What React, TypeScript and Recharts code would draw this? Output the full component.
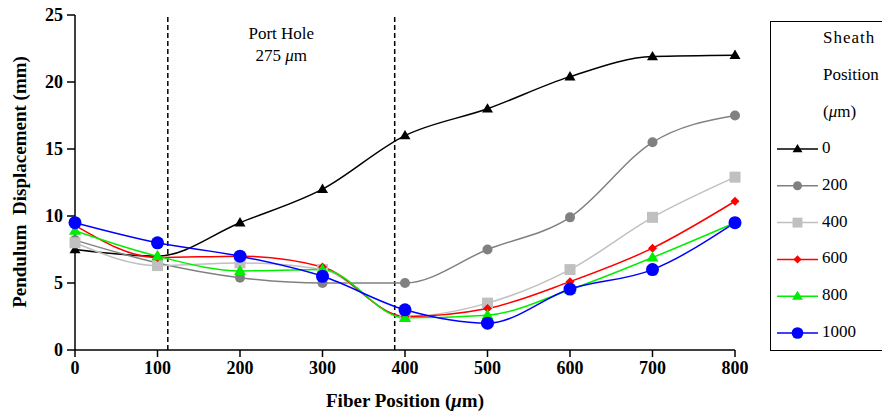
import { LineChart, Line, XAxis, YAxis, ReferenceLine } from 'recharts';

const fiberPositions = [0, 100, 200, 300, 400, 500, 600, 700, 800];
const sheathLabels = ['0', '200', '400', '600', '800', '1000'];
const sheath0 = [7.5, 7.0, 9.5, 12.0, 16.0, 18.0, 20.4, 21.9, 22.0];
const sheath200 = [8.2, 6.5, 5.4, 5.0, 5.0, 7.5, 9.9, 15.5, 17.5];
const sheath400 = [8.0, 6.3, 6.5, 6.0, 2.5, 3.5, 6.0, 9.9, 12.9];
const sheath600 = [9.3, 6.9, 7.0, 6.2, 2.5, 3.1, 5.1, 7.6, 11.1];
const sheath800 = [8.9, 7.0, 5.9, 6.0, 2.4, 2.6, 4.5, 6.9, 9.5];
const sheath1000 = [9.5, 8.0, 7.0, 5.5, 3.0, 2.0, 4.55, 6.0, 9.5];
const yTicks = [0, 5, 10, 15, 20, 25];
const portHoleEdges = [112.5, 387.5];

const seriesValues = [sheath0, sheath200, sheath400, sheath600, sheath800, sheath1000];

const data = fiberPositions.map((x, i) => {
  const row: Record<string, number> = { x };
  sheathLabels.forEach((s, k) => {
    row['s' + s] = seriesValues[k][i];
  });
  return row;
});

const styles = [
  { color: '#000000', shape: 'triangle', size: 5.5 },
  { color: '#808080', shape: 'circle', size: 5 },
  { color: '#c0c0c0', shape: 'square', size: 5.5 },
  { color: '#ff0000', shape: 'diamond', size: 4.5 },
  { color: '#00ee00', shape: 'triangle', size: 6 },
  { color: '#0000ff', shape: 'circle', size: 6.5 },
];

const FONT = '"Liberation Serif", "Times New Roman", serif';

function marker(shape: string, color: string, size: number, cx: number, cy: number, key?: string) {
  if (shape === 'triangle') {
    const h = size * 1.7;
    const pts = `${cx},${cy - h * 0.6} ${cx - size},${cy + h * 0.4} ${cx + size},${cy + h * 0.4}`;
    return <polygon key={key} points={pts} fill={color} />;
  }
  if (shape === 'square') {
    return <rect key={key} x={cx - size} y={cy - size} width={size * 2} height={size * 2} fill={color} />;
  }
  if (shape === 'diamond') {
    const pts = `${cx},${cy - size} ${cx + size},${cy} ${cx},${cy + size} ${cx - size},${cy}`;
    return <polygon key={key} points={pts} fill={color} />;
  }
  return <circle key={key} cx={cx} cy={cy} r={size} fill={color} />;
}

const makeDot = (k: number) => (props: any) => {
  const { cx, cy, index } = props;
  if (cx == null || cy == null) return <g key={`d${k}-${index}`} />;
  const st = styles[k];
  return marker(st.shape, st.color, st.size, cx, cy, `d${k}-${index}`);
};

// legend box drawn beside the chart, partly cut off by the right edge like the original
const SheathLegend = () => {
  const header = ['Sheath', 'Position', '(μm)'];
  return (
    <div
      style={{
        position: 'absolute',
        left: 770,
        top: 21,
        width: 130,
        height: 330,
        border: '1.5px solid #000',
        background: '#fff',
        boxSizing: 'border-box',
      }}
    >
      <svg width={130} height={328} style={{ display: 'block' }}>
        {header.map((h, i) => (
          <text
            key={h}
            x={52}
            y={17 + i * 37}
            fontFamily={FONT}
            fontSize={17}
            dominantBaseline="middle"
            letterSpacing={h === 'Sheath' ? 1 : 0}
          >
            {h === '(μm)' ? (
              <>
                (<tspan fontStyle="italic">μ</tspan>m)
              </>
            ) : (
              h
            )}
          </text>
        ))}
        {sheathLabels.map((s, k) => {
          const y = 127 + k * 36.8;
          const st = styles[k];
          return (
            <g key={s}>
              <line x1={6} x2={47} y1={y} y2={y} stroke={st.color} strokeWidth={1.5} />
              {marker(st.shape, st.color, st.size * 0.9, 26.5, y)}
              <text x={51} y={y} fontFamily={FONT} fontSize={17} dominantBaseline="middle">
                {s}
              </text>
            </g>
          );
        })}
      </svg>
    </div>
  );
};

const YLabel = () => (
  <text
    x={22}
    y={182}
    transform="rotate(-90, 22, 182)"
    textAnchor="middle"
    dominantBaseline="middle"
    fontFamily={FONT}
    fontWeight="bold"
    fontSize={19}
    fill="#000"
    style={{ whiteSpace: 'pre' }}
  >
    {'Pendulum  Displacement (mm)'}
  </text>
);

const XLabel = () => (
  <text
    x={405}
    y={403}
    textAnchor="middle"
    dominantBaseline="middle"
    fontFamily={FONT}
    fontWeight="bold"
    fontSize={19}
    fill="#000"
  >
    Fiber Position (<tspan fontStyle="italic">μ</tspan>m)
  </text>
);

const PortLabel = (props: any) => {
  const x = props.viewBox.x;
  const y = props.viewBox.y;
  return (
    <g>
      <text x={x} y={y + 20} textAnchor="middle" dominantBaseline="middle" fontFamily={FONT} fontSize={17} fill="#000">
        Port Hole
      </text>
      <text x={x} y={y + 42} textAnchor="middle" dominantBaseline="middle" fontFamily={FONT} fontSize={17} fill="#000">
        275 <tspan fontStyle="italic">μ</tspan>m
      </text>
    </g>
  );
};

const tickStyle = { fontFamily: FONT, fontWeight: 'bold', fontSize: 18, fill: '#000' };

export default function App() {
  return (
    <div style={{ position: 'absolute', left: 0, top: 0, width: 882, height: 416, overflow: 'hidden', background: '#fff' }}>
      <LineChart width={882} height={416} data={data} margin={{ top: 15, right: 147, left: 0, bottom: 0 }}>
        <XAxis
          dataKey="x"
          type="number"
          domain={[0, 800]}
          ticks={fiberPositions}
          height={66}
          tick={tickStyle}
          tickSize={7}
          tickMargin={4}
          axisLine={{ stroke: '#000', strokeWidth: 1.5 }}
          tickLine={{ stroke: '#000', strokeWidth: 1.5 }}
          label={<XLabel />}
        />
        <YAxis
          type="number"
          domain={[0, 25]}
          ticks={yTicks}
          width={75}
          tick={tickStyle}
          tickSize={8}
          tickMargin={4}
          axisLine={{ stroke: '#000', strokeWidth: 1.5 }}
          tickLine={{ stroke: '#000', strokeWidth: 1.5 }}
          label={<YLabel />}
        />
        {portHoleEdges.map((x) => (
          <ReferenceLine key={x} x={x} stroke="#000" strokeWidth={1.5} strokeDasharray="5 3" />
        ))}
        <ReferenceLine x={250} stroke="none" label={<PortLabel />} />
        {sheathLabels.map((s, k) => (
          <Line
            key={s}
            type="monotone"
            dataKey={'s' + s}
            name={s}
            stroke={styles[k].color}
            strokeWidth={1.5}
            dot={makeDot(k)}
            activeDot={false}
            isAnimationActive={false}
          />
        ))}
      </LineChart>
      <SheathLegend />
    </div>
  );
}
